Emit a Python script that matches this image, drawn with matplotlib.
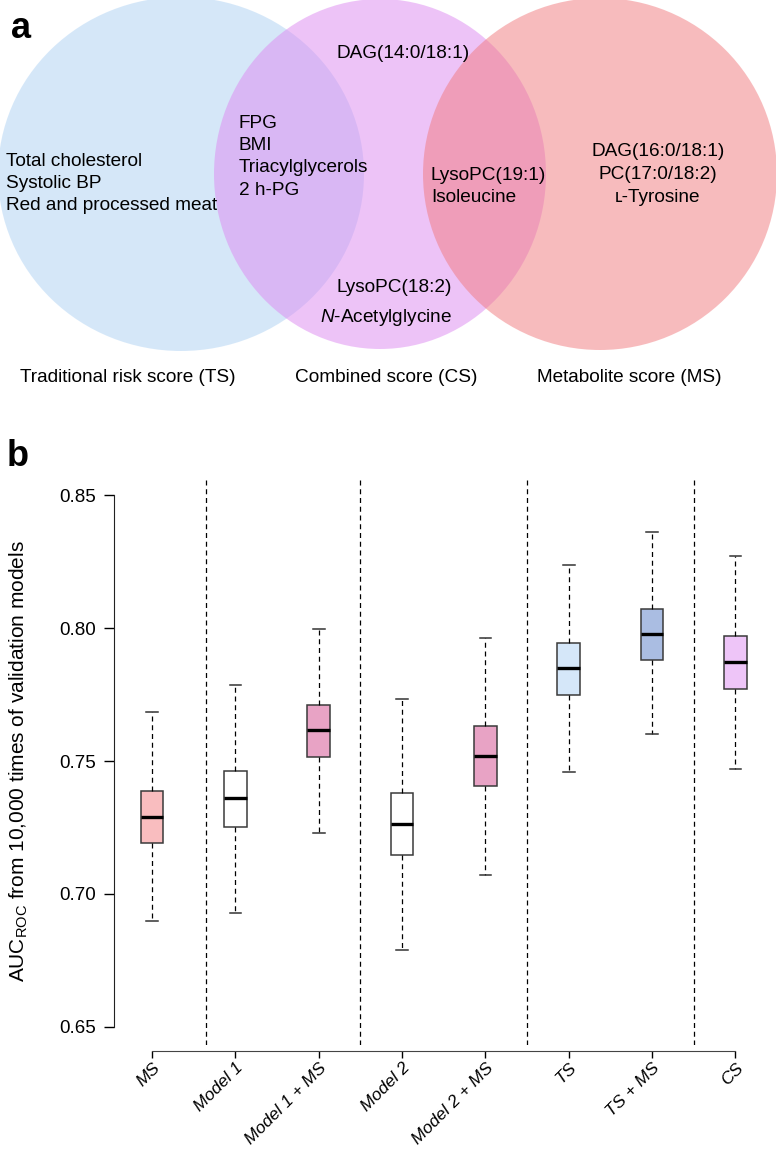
import numpy as np
import matplotlib
matplotlib.use('Agg')
import matplotlib.pyplot as plt
from matplotlib.patches import Ellipse

plt.rcParams['font.family'] = ['Liberation Sans', 'DejaVu Sans']
plt.rcParams['mathtext.fontset'] = 'custom'
plt.rcParams['mathtext.rm'] = 'Liberation Sans'
plt.rcParams['mathtext.it'] = 'Liberation Sans:italic'

NARROW = ['Liberation Sans Narrow', 'Liberation Sans', 'DejaVu Sans']

# ---- panel a : Venn diagram content ----
set_names = ['Traditional risk score (TS)', 'Combined score (CS)', 'Metabolite score (MS)']
set_colors = ['#ADD1F3', '#DD89F1', '#F1797D']
ts_only = ['Total cholesterol', 'Systolic BP', 'Red and processed meat']
ts_cs = ['FPG', 'BMI', 'Triacylglycerols', '2 h-PG']
cs_only_top = ['DAG(14:0/18:1)']
cs_only_bottom = ['LysoPC(18:2)', r'$\mathit{N}$-Acetylglycine']
cs_ms = ['LysoPC(19:1)', 'Isoleucine']
ms_only = ['DAG(16:0/18:1)', 'PC(17:0/18:2)', '\u029f-Tyrosine']

# ---- panel b : AUC box plot summaries ----
models = ['MS', 'Model 1', 'Model 1 + MS', 'Model 2', 'Model 2 + MS', 'TS', 'TS + MS', 'CS']
whis_lo = [0.690, 0.693, 0.723, 0.679, 0.707, 0.746, 0.760, 0.747]
q1 = [0.719, 0.725, 0.7515, 0.7145, 0.7405, 0.775, 0.788, 0.777]
median = [0.729, 0.736, 0.7615, 0.7263, 0.752, 0.7848, 0.7977, 0.7873]
q3 = [0.7388, 0.7464, 0.7709, 0.7381, 0.763, 0.7945, 0.8073, 0.7969]
whis_hi = [0.7685, 0.7786, 0.7997, 0.7734, 0.7962, 0.8237, 0.836, 0.827]
box_colors = ['#F9BDBF', 'white', '#E8A3C5', 'white', '#E8A3C5', '#D5E7F9', '#AABDE2', '#EEC5F8']
separators = [1.65, 3.5, 5.5, 7.5]
yticks = [0.65, 0.70, 0.75, 0.80, 0.85]

fig = plt.figure(figsize=(7.76, 11.56), dpi=100)

# =================== panel a ===================
axv = fig.add_axes([0, 1 - 400 / 1156, 1, 400 / 1156])
axv.set_xlim(0, 776)
axv.set_ylim(400, 0)
axv.axis('off')

ell_geom = [(181, 174, 366, 354), (380, 174, 332, 350), (600, 174, 354, 352)]
for (cx, cy, w, h), c in zip(ell_geom, set_colors):
    axv.add_patch(Ellipse((cx, cy), w, h, facecolor=c, edgecolor='none', alpha=0.5))

fs_v = 13.7
step = 22.5
for i, t in enumerate(ts_only):
    axv.text(6, 161 + i * step, t, fontsize=fs_v, family=NARROW, va='center', ha='left')
for i, t in enumerate(ts_cs):
    axv.text(239, 123 + i * step, t, fontsize=fs_v, family=NARROW, va='center', ha='left')
for i, t in enumerate(cs_only_top):
    axv.text(337, 53 + i * step, t, fontsize=fs_v, family=NARROW, va='center', ha='left')
for i, t in enumerate(cs_only_bottom):
    axv.text(452, 287 + i * 30, t, fontsize=fs_v, family=NARROW, va='center', ha='right')
for i, t in enumerate(cs_ms):
    axv.text(431, 175 + i * step, t, fontsize=fs_v, family=NARROW, va='center', ha='left')
for i, t in enumerate(ms_only):
    axv.text(658, 152 + i * step, t, fontsize=fs_v, family=NARROW, va='center', ha='center')
for x, t in zip([128, 386, 629], set_names):
    axv.text(x, 378, t, fontsize=fs_v, family=NARROW, va='center', ha='center')

axv.text(21, 28, 'a', fontsize=26, fontweight='bold', va='center', ha='center')

# =================== panel b ===================
ax = fig.add_axes([114 / 776, (1156 - 1045) / 1156, (776 - 114) / 776, (1045 - 477) / 1156])

stats = []
for i in range(len(models)):
    stats.append(dict(med=median[i], q1=q1[i], q3=q3[i],
                      whislo=whis_lo[i], whishi=whis_hi[i], label=models[i]))

bp = ax.bxp(stats, positions=np.arange(1, len(models) + 1), widths=0.27, capwidths=0.14,
            patch_artist=True, showfliers=False,
            boxprops=dict(edgecolor='#3a3a3a', linewidth=1.1),
            whiskerprops=dict(color='black', linestyle=(0, (4, 3)), linewidth=0.9),
            capprops=dict(color='#333333', linewidth=1.1),
            medianprops=dict(color='black', linewidth=2.4))
for patch, c in zip(bp['boxes'], box_colors):
    patch.set_facecolor(c)

for s in separators:
    ax.axvline(s, color='black', linestyle=(0, (4, 3)), linewidth=0.9)

ax.set_xlim(0.544, 8.488)
ax.set_ylim(0.64323, 0.85677)

for side in ['top', 'right']:
    ax.spines[side].set_visible(False)
ax.spines['left'].set_bounds(0.65, 0.85)
ax.spines['bottom'].set_bounds(1, 8)
ax.spines['bottom'].set_position(('outward', 4))
ax.spines['left'].set_color('#222222')
ax.spines['bottom'].set_color('#444444')

ax.set_yticks(yticks)
ax.set_yticklabels(['%.2f' % v for v in yticks])
ax.set_xticks(np.arange(1, len(models) + 1))
ax.set_xticklabels(models, rotation=45, ha='right', rotation_mode='anchor',
                   fontstyle='italic')
ax.tick_params(axis='y', length=7, width=1, labelsize=13.5, pad=6)
ax.tick_params(axis='x', length=5, width=1, labelsize=12.5, pad=2)

ax.set_ylabel(r'$\mathregular{AUC_{ROC}}$ from 10,000 times of validation models', fontsize=15)
ax.yaxis.set_label_coords(-0.127, 0.5)

fig.text(18 / 776, 1 - 457 / 1156, 'b', fontsize=26, fontweight='bold', va='center', ha='center')

fig.savefig('out.png', dpi=100)
